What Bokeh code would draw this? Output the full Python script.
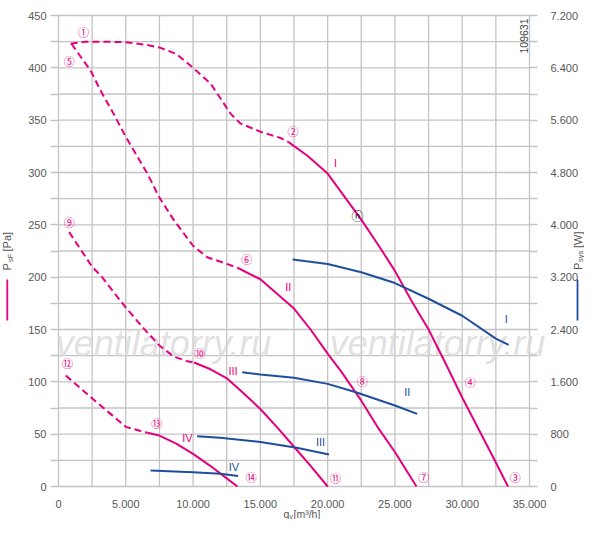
from math import pi
from bokeh.plotting import figure
from bokeh.models import Range1d, LinearAxis, FixedTicker, ColumnDataSource
from bokeh.core.properties import value
from bokeh.embed import file_html
from bokeh.resources import INLINE

# ---------------- data ----------------
q_I_dash = [900, 2000, 3500, 5000, 6500, 7500, 8800, 10000, 11300, 12800, 13500, 15000, 16500, 17100]
p_I_dash = [423, 425, 425, 424.5, 422, 419.5, 413, 400, 385, 356, 347, 339, 333, 329]
q_I = [17100, 18500, 20000, 22500, 23750, 25000, 26250, 27500, 28750, 30000, 31250, 32500, 33400]
p_I = [329, 316, 299, 255, 231, 206, 177, 150, 118, 85, 54, 23, 0]

q_II_dash = [960, 2400, 3140, 4100, 5000, 6600, 7500, 8600, 10000, 11050, 12500, 13300]
p_II_dash = [423, 397, 378, 356, 334, 299, 276, 254, 230, 219, 212.7, 209]
q_II = [13300, 15000, 17500, 18730, 20000, 21000, 22500, 23700, 25000, 26600]
p_II = [209, 198, 170, 150, 127, 110, 82, 57, 33, 0]

q_III_dash = [790, 2520, 3140, 5000, 6360, 7500, 8580, 9500, 10070]
p_III_dash = [243, 209.5, 201.5, 171, 150.6, 134.7, 124, 120, 118.5]
q_III = [10070, 11300, 12550, 13750, 15000, 16250, 17500, 18750, 20000]
p_III = [118.5, 112, 103, 89, 74, 56.5, 38, 19.5, 0]

q_IV_dash = [540, 2520, 5000, 6100, 6600]
p_IV_dash = [106, 84, 57, 53, 51.3]
q_IV = [6600, 7500, 8750, 10000, 11250, 12550, 13300]
p_IV = [51.3, 48.7, 41, 31.2, 20, 7.3, 0]

q_PI = [17400, 20000, 22500, 25000, 27500, 30000, 32500, 33450]
w_PI = [3470, 3400, 3275, 3110, 2870, 2610, 2260, 2165]
q_PII = [13660, 15000, 17500, 20000, 22100, 25000, 26650]
w_PII = [1747, 1712, 1661, 1569, 1441, 1238, 1111]
q_PIII = [10300, 12000, 15000, 17700, 20100]
w_PIII = [768, 746, 680, 591, 489]
q_PIV = [6850, 10000, 12040, 13350]
w_PIV = [245, 219, 194, 160]

pt_text = ["①", "⑤", "②", "⑥", "⑨", "⑩", "⑫", "⑬", "⑭", "⑪", "⑦", "⑧", "④", "③"]
pt_q = [1860, 790, 17430, 13980, 790, 10490, 670, 7300, 14330, 20590, 27150, 22570, 30600, 33950]
pt_p = [434.7, 407, 340, 216.9, 252.5, 127.4, 117.8, 60.8, 9.5, 8.3, 8.9, 100.6, 99.6, 8.9]

mag_lab = ["I", "II", "III", "IV"]
mag_lab_q = [20590, 17080, 12970, 9580]
mag_lab_p = [309.3, 190.3, 110.5, 46.1]
blue_lab = ["I", "II", "III", "IV"]
blue_lab_q = [33270, 25920, 19470, 13040]
blue_lab_w = [2560, 1440, 677, 295]

x_ticks = list(range(0, 35001, 2500))
y_ticks = list(range(0, 451, 25))
w_ticks = list(range(0, 7201, 400))

MAGENTA = "#e6007e"
BLUE = "#1f4f9c"
GRID = "#c4c4c4"
TXT = "#575757"
FONT = "Liberation Sans"
CIRC = "Noto Sans CJK JP"

W, H = 584, 519
L, T, R, B = 58, 15, 529, 486   # chart area edges in canvas pixels


def fmt(v):
    return f"{v:,}".replace(",", ".")


def fx(px):
    return (px - L) * 35000 / (R - L)


def fy(py):
    return (B - py) * 450 / (B - T)


# the frame covers the whole canvas; axes are pinned to the chart edges
p = figure(width=W, height=H, output_backend="svg", toolbar_location=None,
           x_range=Range1d(fx(0), fx(W)), y_range=Range1d(fy(H), fy(0)),
           x_axis_location=None, y_axis_location=None,
           min_border_left=0, min_border_right=0, min_border_top=0, min_border_bottom=0)
p.extra_y_ranges = {"power": Range1d(fy(H) * 16, fy(0) * 16)}
p.outline_line_color = None
p.grid.visible = False

xt = FixedTicker(ticks=x_ticks)
yt = FixedTicker(ticks=y_ticks)
wt = FixedTicker(ticks=w_ticks)

xa = LinearAxis(ticker=xt, fixed_location=0, bounds=(0, 35000))
xa.major_label_overrides = {t: (fmt(t) if t % 5000 == 0 else "") for t in x_ticks}
ya = LinearAxis(ticker=yt, fixed_location=0, bounds=(0, 450))
ya.major_label_overrides = {t: (str(t) if t % 50 == 0 else "") for t in y_ticks}
ra = LinearAxis(ticker=wt, y_range_name="power", fixed_location=35000, bounds=(0, 7200))
ra.major_label_overrides = {t: (fmt(t) if t % 800 == 0 else "") for t in w_ticks}
p.add_layout(xa, "below")
p.add_layout(ya, "left")
p.add_layout(ra, "right")

for ax in (xa, ya, ra):
    ax.axis_line_color = None
    ax.major_tick_line_color = GRID
    ax.major_tick_line_width = 1.3
    ax.major_tick_in = 0
    ax.major_tick_out = 8
    ax.minor_tick_line_color = None
    ax.major_label_text_font = FONT
    ax.major_label_text_font_size = "11px"
    ax.major_label_text_color = TXT
xa.major_tick_out = 0
xa.major_label_standoff = 13
ya.major_label_standoff = 4
ra.major_label_standoff = 13

# grid lines of the chart area, at the axis ticks
nx, ny = len(x_ticks), len(y_ticks)
p.segment(x0=x_ticks, y0=[0] * nx, x1=x_ticks, y1=[450] * nx,
          line_color=GRID, line_width=1.3, level="underlay")
p.segment(x0=[0] * ny, y0=y_ticks, x1=[35000] * ny, y1=y_ticks,
          line_color=GRID, line_width=1.3, level="underlay")

# watermark
wm = ColumnDataSource(dict(x=[fx(163), fx(437)], y=[fy(342.5), fy(342.5)],
                           t=["ventilatorry.ru", "ventilatorry.ru"]))
p.text(x="x", y="y", text="t", source=wm, text_font=value(FONT), text_font_style="italic",
       text_font_size="36px", text_align="center", text_baseline="middle",
       text_color="#d9d9d9", text_alpha=0.8)

dash = "7 4"
for q, pp in ((q_I_dash, p_I_dash), (q_II_dash, p_II_dash), (q_III_dash, p_III_dash), (q_IV_dash, p_IV_dash)):
    p.line(q, pp, line_color=MAGENTA, line_width=2, line_dash=dash)
for q, pp in ((q_I, p_I), (q_II, p_II), (q_III, p_III), (q_IV, p_IV)):
    p.line(q, pp, line_color=MAGENTA, line_width=2)
for q, w in ((q_PI, w_PI), (q_PII, w_PII), (q_PIII, w_PIII), (q_PIV, w_PIV)):
    p.line(q, w, line_color=BLUE, line_width=2, y_range_name="power")

p.text(x=pt_q, y=pt_p, text=pt_text, text_font=value(CIRC), text_font_size="11px",
       text_color=MAGENTA, text_align="center", text_baseline="middle")
p.text(x=mag_lab_q, y=mag_lab_p, text=mag_lab, text_font=value(FONT), text_font_size="11px",
       text_color=MAGENTA, text_align="center", text_baseline="middle")
p.text(x=blue_lab_q, y=blue_lab_w, text=blue_lab, text_font=value(FONT), text_font_size="11px",
       text_color=BLUE, text_align="center", text_baseline="middle", y_range_name="power")
p.text(x=[fx(357)], y=[fy(215)], text=["ⓝ"], text_font=value(CIRC), text_font_size="12px",
       text_color="#111111", text_align="center", text_baseline="middle")
p.text(x=[fx(523)], y=[fy(53)], text=["109631"], angle=pi / 2, text_font=value(FONT),
       text_font_size="10.5px", text_color="#444444", text_align="left", text_baseline="middle")


def lab(px, py, t, size, angle=0.0, color=TXT):
    p.text(x=[fx(px)], y=[fy(py)], text=[t], angle=angle, text_font=value(FONT),
           text_font_size=size, text_color=color, text_align="left", text_baseline="middle")


# axis titles
lab(6.5, 270, "P", "11px", pi / 2)
lab(9.5, 261.5, "sF", "7.5px", pi / 2)
lab(6.5, 251, "[Pa]", "11px", pi / 2)
lab(577, 269.5, "P", "11px", pi / 2)
lab(579.5, 261.5, "sys", "7.5px", pi / 2)
lab(577, 247.5, "[W]", "11px", pi / 2)
lab(283, 513, "q", "10.5px")
lab(289, 515.5, "v", "7px")
lab(293, 513, "[m³/h]", "10.5px")

# colour keys next to the axis titles
p.segment(x0=[fx(6.8), fx(577)], y0=[fy(279), fy(279)], x1=[fx(6.8), fx(577)], y1=[fy(320), fy(320)],
          line_color=[MAGENTA, BLUE], line_width=1.8)

open("out.html", "w").write(file_html(p, INLINE))
